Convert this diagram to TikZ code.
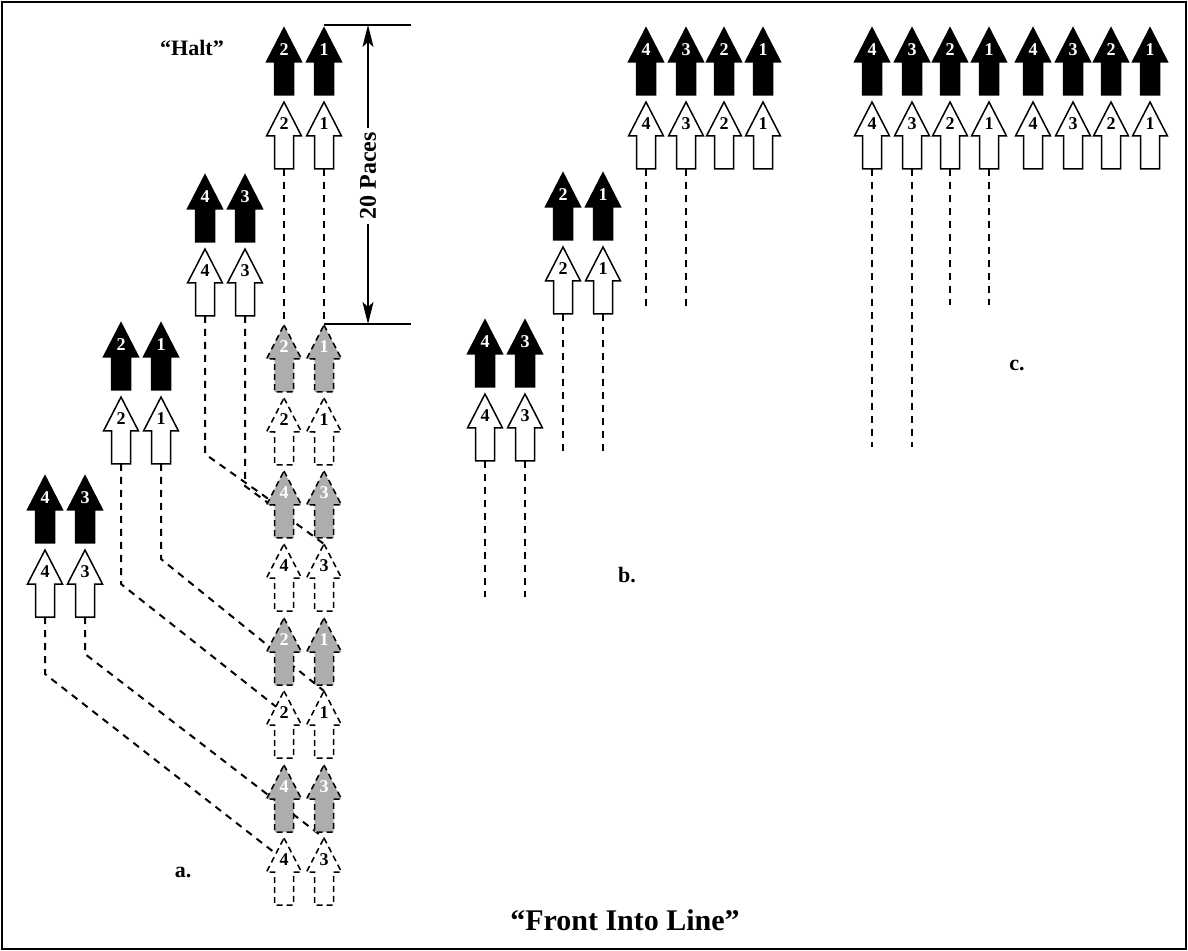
\documentclass[tikz,border=0pt]{standalone}
\usepackage{fontspec}
\setmainfont{Liberation Serif}
\usetikzlibrary{arrows.meta,backgrounds}

\tikzset{
  man/.pic={
    \path[pic actions] (0,0) -- (17.5,34) -- (9.5,34) -- (9.5,67) -- (-9.5,67)
      -- (-9.5,34) -- (-17.5,34) -- cycle;
    \node[num] (-n) at (0,22) {#1};
    \coordinate (-tip) at (0,0);
    \coordinate (-mid) at (0,39);
    \coordinate (-tail) at (0,67);
  },
  num/.style={font=\fontsize{9}{9}\selectfont\bfseries, inner sep=0pt},
  lead/.style={draw=black, fill=black, text=white, line width=0.75pt},
  rear/.style={draw=black, fill=white, text=black, line width=0.75pt},
  ghostlead/.style={draw=black, fill=black!32, text=white, line width=0.75pt, dash pattern=on 3pt off 2pt},
  ghostrear/.style={draw=black, fill=white, text=black, line width=0.75pt, dash pattern=on 3pt off 2pt},
  track/.style={line width=1pt, dash pattern=on 3.5pt off 3pt},
  caption/.style={font=\fontsize{11}{13}\selectfont\bfseries},
}

\begin{document}
\begin{tikzpicture}[x=0.5pt,y=-0.5pt]
  \useasboundingbox (0,0) rectangle (1188,951);
  \draw[line width=0.75pt] (2,2) rectangle (1186,949);

  % a. column turning into line
  \foreach \x/\k in {284/2,324/1}{
    \pic[lead] (a1l\k) at (\x,28) {man=\k};
    \pic[rear] (a1r\k) at (\x,102) {man=\k};
  }
  \foreach \x/\k in {205/4,245/3}{
    \pic[lead] (a2l\k) at (\x,175) {man=\k};
    \pic[rear] (a2r\k) at (\x,249) {man=\k};
  }
  \foreach \x/\k in {121/2,161/1}{
    \pic[lead] (a3l\k) at (\x,323) {man=\k};
    \pic[rear] (a3r\k) at (\x,397) {man=\k};
  }
  \foreach \x/\k in {45/4,85/3}{
    \pic[lead] (a4l\k) at (\x,476) {man=\k};
    \pic[rear] (a4r\k) at (\x,550) {man=\k};
  }
  \foreach \y/\i/\ka/\kb in {325/1/2/1,471/2/4/3,618/3/2/1,765/4/4/3}{
    \pic[ghostlead] (g\i l\ka) at (284,\y) {man=\ka};
    \pic[ghostlead] (g\i l\kb) at (324,\y) {man=\kb};
    \pic[ghostrear] (g\i r\ka) at (284,\y+73) {man=\ka};
    \pic[ghostrear] (g\i r\kb) at (324,\y+73) {man=\kb};
  }

  % b.
  \foreach \x/\k in {485/4,525/3}{
    \pic[lead] (b1l\k) at (\x,320) {man=\k};
    \pic[rear] (b1r\k) at (\x,394) {man=\k};
  }
  \foreach \x/\k in {563/2,603/1}{
    \pic[lead] (b2l\k) at (\x,173) {man=\k};
    \pic[rear] (b2r\k) at (\x,247) {man=\k};
  }
  \foreach \x/\k in {646/4,686/3,724/2,763/1}{
    \pic[lead] (b3l\k) at (\x,28) {man=\k};
    \pic[rear] (b3r\k) at (\x,102) {man=\k};
  }

  % c.
  \foreach \x/\k [count=\i] in {872/4,912/3,950/2,989/1,1033/4,1073/3,1111/2,1150/1}{
    \pic[lead] (cl\i) at (\x,28) {man=\k};
    \pic[rear] (cr\i) at (\x,102) {man=\k};
  }

  \coordinate (b1end) at (0,597);
  \coordinate (b2end) at (0,453);
  \coordinate (b3end) at (0,307);
  \coordinate (clong) at (0,447);
  \coordinate (cshort) at (0,305);

  % tracks
  \begin{scope}[on background layer]
    \draw[track] (a1r2-tail) -- (g1l2-tip);
    \draw[track] (a1r1-tail) -- (g1l1-tip);
    \draw[track] (a2r4-tail) -- ++(0,138) -- (g2l4-mid);
    \draw[track] (a2r3-tail) -- ++(0,170) -- (g2r3-tip);
    \draw[track] (a3r2-tail) -- ++(0,120) -- (g3r2-n.center);
    \draw[track] (a3r1-tail) -- ++(0,95) -- (g3r1-tip);
    \draw[track] (a4r4-tail) -- ++(0,57) -- (g4r4-n.center);
    \draw[track] (a4r3-tail) -- ++(0,37) -- (g4r3-tip);
    \foreach \k in {4,3}{
      \draw[track] (b1r\k-tail) -- (b1r\k-tail |- b1end);
      \draw[track] (b3r\k-tail) -- (b3r\k-tail |- b3end);
    }
    \foreach \k in {2,1}
      \draw[track] (b2r\k-tail) -- (b2r\k-tail |- b2end);
    \foreach \i in {1,2}
      \draw[track] (cr\i-tail) -- (cr\i-tail |- clong);
    \foreach \i in {3,4}
      \draw[track] (cr\i-tail) -- (cr\i-tail |- cshort);
  \end{scope}

  % 20 paces
  \coordinate (dtop) at (411,25);
  \coordinate (dbot) at (411,324);
  \draw[line width=0.7pt] (a1l1-tip |- dtop) -- (dtop);
  \draw[line width=0.7pt] (g1l1-tip |- dbot) -- (dbot);
  \node[caption, font=\fontsize{12}{14}\selectfont\bfseries, rotate=90, inner sep=2pt] (paces) at (368,176) {20 Paces};
  \draw[line width=0.6pt, -{Stealth[length=11pt,width=5.5pt,inset=2.5pt]}] (paces.east) -- (paces.east |- dtop);
  \draw[line width=0.6pt, -{Stealth[length=11pt,width=5.5pt,inset=2.5pt]}] (paces.west) -- (paces.west |- dbot);

  \node[caption] (halt) at (192,48) {``Halt''};
  \node[caption] (lbla) at (183,872) {a.};
  \node[caption] (lblb) at (627,575) {b.};
  \node[caption] (lblc) at (1017,365) {c.};
  \node[caption, font=\fontsize{15}{17}\selectfont\bfseries] (title) at (625,920) {``Front Into Line''};
\end{tikzpicture}
\end{document}
